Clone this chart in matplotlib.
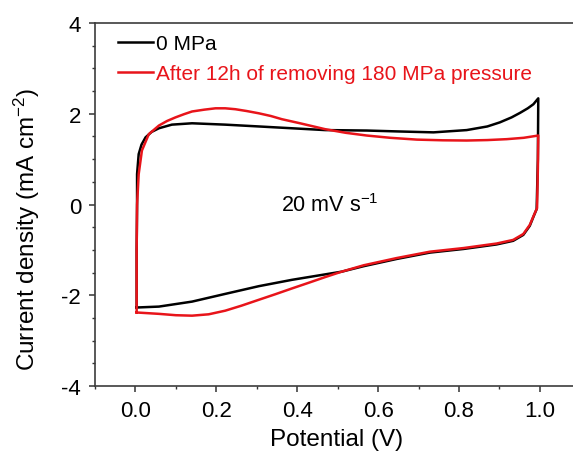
import matplotlib.pyplot as plt
from matplotlib.ticker import MultipleLocator

plt.rcParams['font.family'] = ['Liberation Sans', 'DejaVu Sans']
plt.rcParams['axes.unicode_minus'] = False
plt.rcParams['mathtext.fontset'] = 'custom'
plt.rcParams['mathtext.rm'] = 'Liberation Sans'
plt.rcParams['mathtext.it'] = 'Liberation Sans'
plt.rcParams['mathtext.default'] = 'regular'

# 0 MPa: full CV loop (upper branch 0 -> 1 V, then lower branch 1 -> 0 V)
v_black = [0.003, 0.003, 0.004, 0.004, 0.008, 0.015, 0.025, 0.04, 0.058, 0.09, 0.14,
           0.222, 0.305, 0.387, 0.469, 0.572, 0.65, 0.737, 0.819, 0.87, 0.901, 0.93,
           0.951, 0.97, 0.984, 0.996,
           0.995, 0.992, 0.985, 0.975, 0.959, 0.934, 0.893, 0.811, 0.728, 0.646, 0.564,
           0.51, 0.469, 0.387, 0.305, 0.222, 0.14, 0.058, 0.003]
j_black = [-2.27, -1.0, 0.0, 0.67, 1.11, 1.32, 1.48, 1.6, 1.68, 1.76, 1.79,
           1.76, 1.72, 1.68, 1.64, 1.63, 1.61, 1.59, 1.64, 1.72, 1.81, 1.92,
           2.02, 2.12, 2.21, 2.34,
           1.0, -0.10, -0.25, -0.47, -0.67, -0.80, -0.88, -0.98, -1.06, -1.20, -1.36,
           -1.48, -1.54, -1.66, -1.80, -1.97, -2.14, -2.25, -2.27]

# after 12h of removing 180 MPa pressure
v_red = [0.003, 0.003, 0.004, 0.008, 0.016, 0.033, 0.058, 0.078, 0.099, 0.12, 0.14,
         0.17, 0.198, 0.222, 0.247, 0.275, 0.305, 0.335, 0.362, 0.407, 0.469, 0.52,
         0.572, 0.63, 0.696, 0.76, 0.819, 0.87, 0.918, 0.96, 0.996,
         0.995, 0.993, 0.985, 0.975, 0.959, 0.934, 0.893, 0.811, 0.728, 0.646, 0.564,
         0.51, 0.469, 0.43, 0.387, 0.345, 0.305, 0.262, 0.222, 0.181, 0.14, 0.1,
         0.058, 0.003]
j_red = [-2.38, -1.0, 0.0, 0.67, 1.19, 1.55, 1.74, 1.84, 1.92, 1.99, 2.05,
         2.09, 2.12, 2.12, 2.10, 2.06, 2.01, 1.95, 1.88, 1.79, 1.66, 1.58,
         1.52, 1.47, 1.43, 1.415, 1.41, 1.42, 1.44, 1.47, 1.52,
         0.8, -0.08, -0.24, -0.45, -0.65, -0.78, -0.86, -0.96, -1.04, -1.18, -1.34,
         -1.48, -1.60, -1.72, -1.85, -1.98, -2.10, -2.23, -2.34, -2.42, -2.45, -2.44,
         -2.41, -2.38]

labels = ['0 MPa', 'After 12h of removing 180 MPa pressure']
colors = ['black', '#e8141a']
xticks = [0.0, 0.2, 0.4, 0.6, 0.8, 1.0]

fig = plt.figure(figsize=(5.73, 4.52), dpi=100)
ax = fig.add_axes([0.1658, 0.1438, 0.847, 0.8031])

ax.plot(v_black, j_black, color=colors[0], lw=1.8, label=labels[0])
ax.plot(v_red, j_red, color=colors[1], lw=1.8, label=labels[1])

ax.set_xlim(-0.1, 1.1)
ax.set_ylim(-4, 4)
ax.set_xticks(xticks)
ax.set_xticklabels(['%.1f' % t for t in xticks])
ax.xaxis.set_minor_locator(MultipleLocator(0.1))
ax.yaxis.set_major_locator(MultipleLocator(2))
ax.yaxis.set_minor_locator(MultipleLocator(0.5))
ax.tick_params(which='major', direction='out', length=4, width=1.1, labelsize=16,
               color='#333333')
ax.tick_params(axis='x', which='major', pad=6)
ax.tick_params(axis='y', which='major', pad=6)
ax.tick_params(which='minor', direction='out', length=2.5, width=1.0, color='#333333')
for side in ['left', 'bottom', 'top']:
    ax.spines[side].set_color('#3c3c3c')
    ax.spines[side].set_linewidth(1.2)
ax.spines['right'].set_visible(False)

fig.text(337 / 573, 1 - 440 / 452, 'Potential (V)', fontsize=17.5,
         ha='center', va='center')
fig.text(27 / 573, 1 - 229 / 452, 'Current density (mA cm$^{-2}$)', fontsize=17.5,
         rotation=90, ha='center', va='center')

ax.text(0.48, 0.0, '20 mV s$^{-1}$', fontsize=15.5, ha='center', va='center')

leg = ax.legend(loc='upper left', frameon=False, fontsize=15, handlelength=1.7,
                handletextpad=0.15, labelspacing=0.55, borderpad=0, borderaxespad=0,
                bbox_to_anchor=(0.047, 0.97))
for txt, c in zip(leg.get_texts(), colors):
    txt.set_color(c)

fig.savefig('out.png', dpi=100)
